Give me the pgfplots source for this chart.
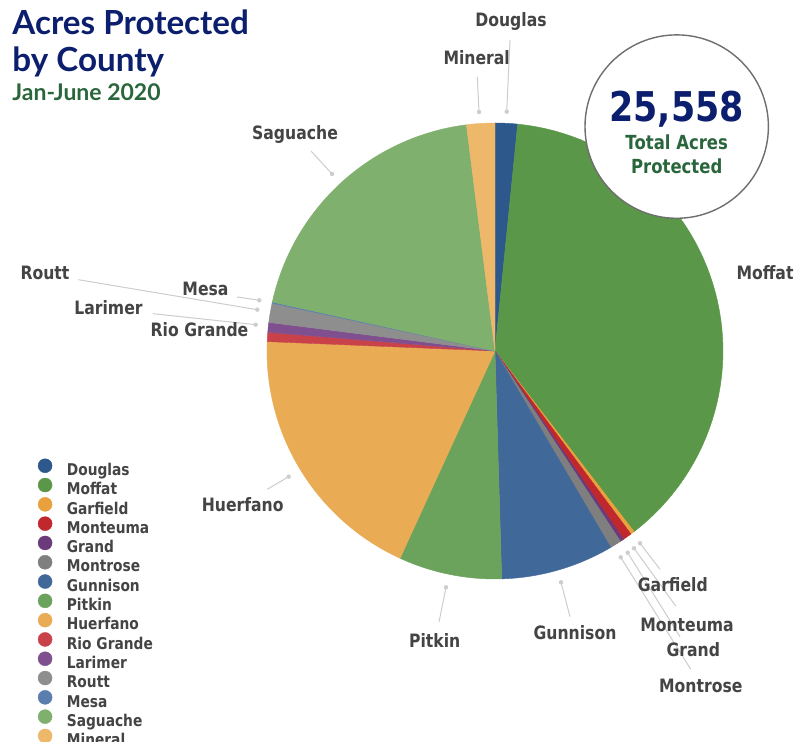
\documentclass[border=0pt]{standalone}
\usepackage{fontspec}
\usepackage{pgfplots}
\usepackage{pgfplotstable}
\pgfplotsset{compat=1.18}
\setmainfont{DejaVu Sans}[FakeStretch=0.85]
\newfontfamily\titlefont{Lato}

\definecolor{c0}{RGB}{44,88,140}
\definecolor{c1}{RGB}{91,151,72}
\definecolor{c2}{RGB}{232,161,60}
\definecolor{c3}{RGB}{192,40,45}
\definecolor{c4}{RGB}{107,58,122}
\definecolor{c5}{RGB}{127,127,127}
\definecolor{c6}{RGB}{64,104,153}
\definecolor{c7}{RGB}{107,163,93}
\definecolor{c8}{RGB}{233,172,84}
\definecolor{c9}{RGB}{201,66,74}
\definecolor{c10}{RGB}{127,79,143}
\definecolor{c11}{RGB}{142,142,142}
\definecolor{c12}{RGB}{90,127,174}
\definecolor{c13}{RGB}{128,176,110}
\definecolor{c14}{RGB}{237,184,106}
\definecolor{navy}{RGB}{12,30,110}
\definecolor{dgreen}{RGB}{42,102,60}
\definecolor{labelgray}{RGB}{68,68,68}
\definecolor{leadgray}{RGB}{205,205,205}
\definecolor{circgray}{RGB}{110,110,110}

\pgfplotstableread[col sep=comma]{
name,acres
Douglas,405
Moffat,9705
Garfield,71
Monteuma,163
Grand,64
Montrose,206
Gunnison,2045
Pitkin,1867
Huerfano,4810
Rio Grande,167
Larimer,177
Routt,348
Mesa,21
Saguache,4998
Mineral,511
}\pietable

\begin{document}
\begin{tikzpicture}
\clip (0,0) rectangle (404.5pt,371pt);
\fill[white] (0,0) rectangle (404.5pt,371pt);
\begin{axis}[at={(247.5pt,195.5pt)}, anchor=center,
  width=228pt, height=228pt, scale only axis, hide axis,
  xmin=-1, xmax=1, ymin=-1, ymax=1, clip=false,
  legend style={at={(-0.5033,0.2650)}, anchor=north west, draw=none, fill=none,
    font=\bfseries\fontsize{8.1pt}{9pt}\selectfont, text=labelgray,
    inner sep=0pt, row sep=0pt, column sep=7.3pt,
    nodes={inner sep=0pt, text height=5.3pt, text depth=1.2pt}},
  legend cell align=left,
  legend image code/.code={\fill (0pt,2.8pt) circle (3.5pt);}]
\def\total{0}
\pgfplotsforeachungrouped \i in {0,...,14}{%
  \pgfplotstablegetelem{\i}{acres}\of\pietable
  \pgfmathsetmacro\total{\total+\pgfplotsretval/1000}%
}
\def\cum{0}
\pgfplotsforeachungrouped \i in {0,...,14}{%
  \pgfplotstablegetelem{\i}{acres}\of\pietable
  \pgfmathsetmacro\angA{\cum*360/\total}%
  \pgfmathsetmacro\cum{\cum+\pgfplotsretval/1000}%
  \pgfmathsetmacro\angB{\cum*360/\total}%
  \pgfplotstablegetelem{\i}{name}\of\pietable
  \edef\doplot{\noexpand\addplot[fill=c\i, draw=c\i, line width=0.2pt, domain=\angA:\angB, samples=60] ({sin(x)},{cos(x)}) -- (axis cs:0,0) -- cycle; \noexpand\addlegendentry{\pgfplotsretval}}%
  \doplot
}
\end{axis}
\begin{scope}[x=0.5pt, y=-0.5pt, yshift=371pt]
  % total circle
  \draw[fill=white, draw=circgray, line width=0.7pt] (676.7,126.6) circle [radius=45.85pt];
  \node[anchor=base, text=navy, font=\bfseries\fontsize{20.5pt}{24pt}\selectfont] at (676.7,121.5) {25,558};
  \node[anchor=base, text=dgreen, font=\bfseries\fontsize{9.7pt}{12pt}\selectfont] at (676.7,150) {Total Acres};
  \node[anchor=base, text=dgreen, font=\bfseries\fontsize{9.7pt}{12pt}\selectfont] at (676.7,173.3) {Protected};
  % title
  \node[anchor=base west, inner sep=0pt, text=navy, font=\titlefont\bfseries\fontsize{16.6pt}{19pt}\selectfont] at (12,35) {Acres Protected};
  \node[anchor=base west, inner sep=0pt, text=navy, font=\titlefont\bfseries\fontsize{16.6pt}{19pt}\selectfont] at (12,72) {by County};
  \node[anchor=base west, inner sep=0pt, text=dgreen, font=\titlefont\bfseries\fontsize{11.5pt}{13pt}\selectfont] at (12,101) {Jan-June 2020};
  % leader lines
  \begin{scope}[draw=leadgray, fill=leadgray, line width=0.5pt]
    \foreach \ax/\ay/\bx/\by in {506.7/111.7/510/40, 479/112/477.3/77, 332/174/311/151,
      257.3/309.7/78.3/279.7, 259.3/300.3/237/297, 255.7/324.7/153/313.7,
      288.7/476.7/267.3/489.3, 446/587.3/439/622, 561/582.3/570/616.7,
      640/543.3/660/569.3, 634/548.3/675.7/606, 627.7/552.7/680/636.7, 620.7/557.3/690.7/669.3}{
      \draw (\ax,\ay) -- (\bx,\by);
      \fill (\ax,\ay) circle (1.1pt);
    }
  \end{scope}
  % slice labels
  \begin{scope}[every node/.style={anchor=base, inner sep=0pt, text=labelgray, font=\bfseries\fontsize{9.2pt}{11pt}\selectfont}]
    \node at (511,26.5) {Douglas};
    \node at (476.7,65) {Mineral};
    \node at (295,140) {Saguache};
    \node at (765,280) {Moffat};
    \node at (45,280) {Routt};
    \node at (205.5,295.7) {Mesa};
    \node at (108.5,315) {Larimer};
    \node at (199.5,336.5) {Rio Grande};
    \node at (242.7,512) {Huerfano};
    \node at (434.7,648) {Pitkin};
    \node at (575,640) {Gunnison};
    \node at (672.8,592) {Garfield};
    \node at (687,631.5) {Monteuma};
    \node at (693.3,657) {Grand};
    \node at (700.8,693) {Montrose};
  \end{scope}
\end{scope}
\end{tikzpicture}
\end{document}
